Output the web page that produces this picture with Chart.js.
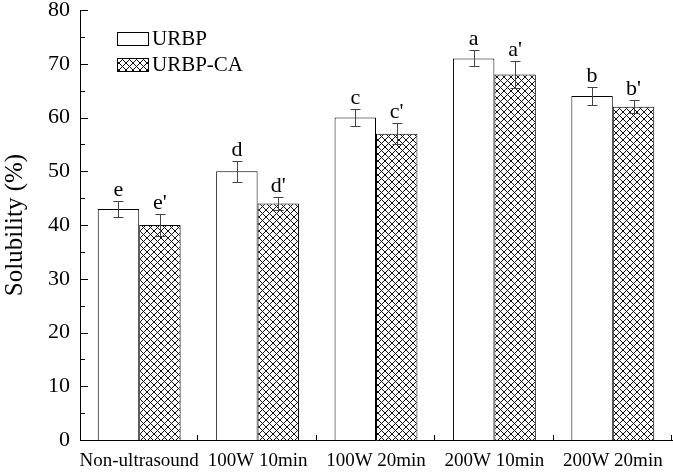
<!DOCTYPE html>
<html>
<head>
<meta charset="utf-8">
<script src="https://cdn.jsdelivr.net/npm/chart.js@4.4.0/dist/chart.umd.min.js"></script>
<style>
html,body{margin:0;padding:0;background:#fff;}
#wrap{width:673px;height:472px;position:relative;}
</style>
</head>
<body>
<div id="wrap"><canvas id="c" width="673" height="472"></canvas></div>
<script>
const categories = ['Non-ultrasound', '100W 10min', '100W 20min', '200W 10min', '200W 20min'];
const seriesNames = ['URBP', 'URBP-CA'];
const urbp = [43, 50, 60, 71, 64];
const urbpErr = [1.5, 2.0, 1.5, 1.5, 1.7];
const urbpCA = [40, 44, 57, 68, 62];
const urbpCAErr = [2.0, 1.2, 2.0, 2.5, 1.2];
const urbpLetters = ['e', 'd', 'c', 'a', 'b'];
const urbpCALetters = ["e'", "d'", "c'", "a'", "b'"];
const yTickValues = [0, 10, 20, 30, 40, 50, 60, 70, 80];
const yTitle = 'Solubility (%)';

const FONT = '"Liberation Serif", "Times New Roman", serif';

function makeHatch() {
  const s = 7;
  const c = document.createElement('canvas');
  c.width = s; c.height = s;
  const g = c.getContext('2d');
  g.fillStyle = '#fff';
  g.fillRect(0, 0, s, s);
  g.strokeStyle = '#111';
  g.lineWidth = 1;
  g.beginPath();
  g.moveTo(-1, -1); g.lineTo(s + 1, s + 1);
  g.moveTo(-1, s + 1); g.lineTo(s + 1, -1);
  g.stroke();
  return document.getElementById('c').getContext('2d').createPattern(c, 'repeat');
}
const hatch = makeHatch();

const errPlugin = {
  id: 'errLetters',
  afterDatasetsDraw(chart) {
    const ctx = chart.ctx;
    const y = chart.scales.y;
    const errs = [urbpErr, urbpCAErr];
    const letters = [urbpLetters, urbpCALetters];
    chart.data.datasets.forEach((ds, di) => {
      const meta = chart.getDatasetMeta(di);
      meta.data.forEach((bar, i) => {
        const v = ds.data[i], e = errs[di][i];
        const x = Math.round(bar.x) + 0.5;
        const yt = Math.round(y.getPixelForValue(v + e)) + 0.5;
        const yb = Math.round(y.getPixelForValue(v - e)) + 0.5;
        ctx.save();
        ctx.strokeStyle = '#444';
        ctx.lineWidth = 1;
        ctx.beginPath();
        ctx.moveTo(x, yt); ctx.lineTo(x, yb);
        ctx.moveTo(x - 5, yt); ctx.lineTo(x + 5, yt);
        ctx.moveTo(x - 5, yb); ctx.lineTo(x + 5, yb);
        ctx.stroke();
        ctx.fillStyle = '#000';
        ctx.font = '22px ' + FONT;
        ctx.textAlign = 'center';
        ctx.textBaseline = 'alphabetic';
        ctx.fillText(letters[di][i], bar.x, yt - 6);
        ctx.restore();
      });
    });
  },
  afterDraw(chart) {
    const ctx = chart.ctx;
    const a = chart.chartArea;
    const x = chart.scales.x, y = chart.scales.y;
    ctx.save();
    ctx.strokeStyle = '#000';
    ctx.lineWidth = 1;
    ctx.beginPath();
    for (let v = 0; v <= 80; v += 5) {
      const py = Math.round(y.getPixelForValue(v)) + 0.5;
      const len = (v % 10 === 0) ? 8 : 5;
      ctx.moveTo(a.left, py); ctx.lineTo(a.left + len, py);
    }
    const half = (x.getPixelForValue(1) - x.getPixelForValue(0)) / 2;
    for (let i = 0; i < categories.length; i++) {
      const px = Math.round(x.getPixelForValue(i) + half) - 0.5;
      ctx.moveTo(px, a.bottom); ctx.lineTo(px, a.bottom - 5);
    }
    ctx.stroke();
    ctx.fillStyle = '#000';
    ctx.font = '25px ' + FONT;
    ctx.textAlign = 'center';
    ctx.textBaseline = 'middle';
    ctx.translate(15, 225);
    ctx.rotate(-Math.PI / 2);
    ctx.fillText(yTitle, 0, 0);
    ctx.restore();
    ctx.save();
    const fills = ['#fff', hatch];
    const rows = [32, 58];
    ctx.font = '21px ' + FONT;
    ctx.textBaseline = 'middle';
    ctx.textAlign = 'left';
    seriesNames.forEach((n, i) => {
      ctx.fillStyle = fills[i];
      ctx.fillRect(117, rows[i], 31, 13);
      ctx.strokeStyle = '#000';
      ctx.lineWidth = 1;
      ctx.strokeRect(117.5, rows[i] + 0.5, 31, 13);
      ctx.fillStyle = '#000';
      ctx.fillText(n, 152, rows[i] + 7.5);
    });
    ctx.restore();
  }
};

new Chart(document.getElementById('c'), {
  type: 'bar',
  data: {
    labels: categories,
    datasets: [
      { label: seriesNames[0], data: urbp, backgroundColor: '#fff', borderColor: '#000', borderWidth: 1 },
      { label: seriesNames[1], data: urbpCA, backgroundColor: hatch, borderColor: '#000', borderWidth: 1 }
    ]
  },
  options: {
    responsive: false,
    animation: false,
    devicePixelRatio: 1,
    layout: { padding: { top: 10, right: 1, left: 0, bottom: 0 } },
    categoryPercentage: 0.7,
    barPercentage: 1.0,
    plugins: { legend: { display: false }, tooltip: { enabled: false } },
    scales: {
      x: {
        grid: { display: false, drawTicks: false },
        border: { display: true, color: '#000', width: 1 },
        ticks: { color: '#000', font: { family: FONT, size: 19 }, padding: 10, maxRotation: 0, autoSkip: false },
        afterFit(s) { s.height = 32; s.paddingLeft = 0; s.paddingRight = 0; }
      },
      y: {
        min: 0, max: 80,
        afterBuildTicks(s) { s.ticks = yTickValues.map(v => ({ value: v })); },
        grid: { display: false, drawTicks: false },
        border: { display: true, color: '#000', width: 1 },
        ticks: { color: '#000', font: { family: FONT, size: 22 }, padding: 10 },
        afterFit(s) { s.width = 80; s.paddingTop = 0; s.paddingBottom = 0; }
      }
    }
  },
  plugins: [errPlugin]
});
</script>
</body>
</html>
